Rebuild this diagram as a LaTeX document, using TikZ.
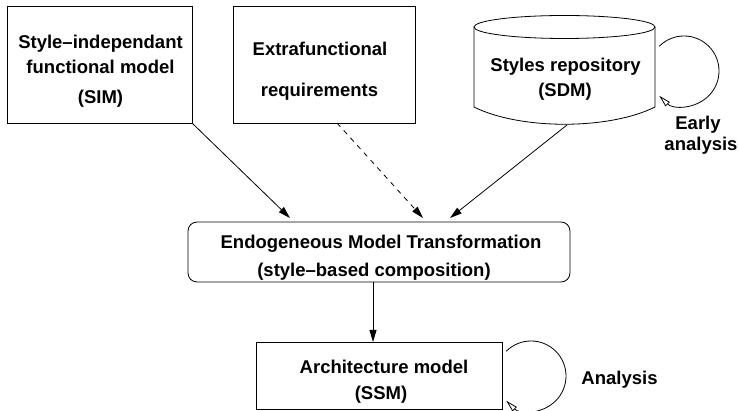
\documentclass[tikz,border=0pt]{standalone}
\usepackage{fontspec}
\setmainfont{Liberation Sans}
\usetikzlibrary{arrows.meta,calc}
\begin{document}
\begin{tikzpicture}[x=1pt,y=-1pt,line width=0.8pt,
  box/.style={draw,inner sep=0pt},
  txt/.style={inner sep=0pt,anchor=base,font=\fontsize{18.5}{22}\selectfont\bfseries},
  arr/.style={-{Triangle[length=12pt,width=7pt]}},
  looparr/.style={-{Triangle[open,length=12pt,width=6pt,fill=white]}}]
\useasboundingbox (0,0) rectangle (739,411);
% boxes
\node[box,minimum width=185pt,minimum height=117pt] (sim) at (99.5,64.5) {};
\node[box,minimum width=182pt,minimum height=117pt] (extra) at (324,64.5) {};
\node[box,rounded corners=9pt,minimum width=382pt,minimum height=60pt] (endo) at (379,252) {};
\node[box,minimum width=246pt,minimum height=67pt] (arch) at (379,375.5) {};
% cylinder
\node[inner sep=0pt,minimum width=181pt,minimum height=110pt] (sdm) at (564.5,70) {};
\draw (564.5,27) ellipse [x radius=90.5pt,y radius=11.5pt];
\draw (474,27) -- (474,107) .. controls (520,130) and (609,130) .. (655,107) -- (655,27);
% texts
\node[txt] (t1) at (100.5,48.5) {Style–independant};
\node[txt] (t2) at (100.5,74) {functional model};
\node[txt] (t3) at (100.5,104) {(SIM)};
\node[txt] (t4) at (320,56) {Extrafunctional};
\node[txt] (t5) at (319.5,96.5) {requirements};
\node[txt] (t6) at (565.5,71.5) {Styles repository};
\node[txt] (t7) at (565,97) {(SDM)};
\node[txt] (t8) at (698,129.5) {Early};
\node[txt] (t9) at (701,150.5) {analysis};
\node[txt] (t10) at (381,248.5) {Endogeneous Model Transformation};
\node[txt] (t11) at (374,276.5) {(style–based composition)};
\node[txt] (t12) at (384,373.5) {Architecture model};
\node[txt] (t13) at (381,399.5) {(SSM)};
\node[txt] (t14) at (619.5,384.5) {Analysis};
% connector points
\coordinate (xs) at (337,123);
\coordinate (sdmb) at (567,125);
\coordinate (e1) at (290,218);
\coordinate (e2) at (423,218);
\coordinate (e3) at (450,218);
\coordinate (es) at (373,282);
\coordinate (an) at (373,342);
\coordinate (la) at (659.25,46.25);
\coordinate (lb) at (659.25,95.75);
\coordinate (ma) at (506.25,351.25);
\coordinate (mb) at (506.25,400.75);
% connectors
\draw[arr] (sim.south east) -- (e1);
\draw[arr,dash pattern=on 5pt off 5pt] (xs) -- (e2);
\draw[arr] (sdmb) -- (e3);
\draw[arr] (es) -- (an);
\draw[looparr] (la) .. controls (672.92,32.58) and (695.08,32.58) .. (708.75,46.25)
  .. controls (722.42,59.92) and (722.42,82.08) .. (708.75,95.75)
  .. controls (695.08,109.42) and (672.92,109.42) .. (lb);
\draw[looparr] (ma) .. controls (519.92,337.58) and (542.08,337.58) .. (555.75,351.25)
  .. controls (569.42,364.92) and (569.42,387.08) .. (555.75,400.75)
  .. controls (542.08,414.42) and (519.92,414.42) .. (mb);
\end{tikzpicture}
\end{document}
